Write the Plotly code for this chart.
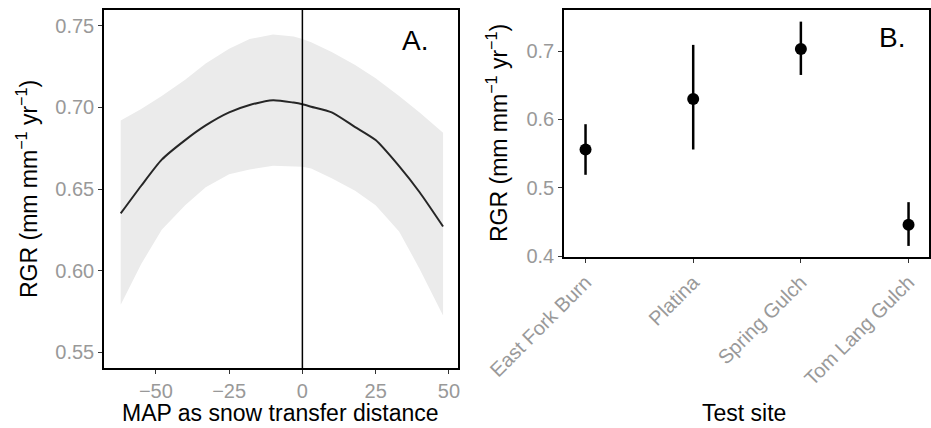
import plotly.graph_objects as go

# Panel A: fitted curve with confidence band
map_x = [-62, -55, -48, -40, -33, -25, -18, -10, -3, 0, 3, 10, 18, 25, 33, 40, 48]
rgr_fit = [0.635, 0.652, 0.668, 0.680, 0.689, 0.697, 0.7015, 0.7045, 0.703, 0.702, 0.7005, 0.697, 0.688, 0.680, 0.664, 0.648, 0.627]
rgr_upper = [0.692, 0.699, 0.707, 0.717, 0.727, 0.736, 0.742, 0.7448, 0.7435, 0.742, 0.740, 0.734, 0.726, 0.718, 0.707, 0.697, 0.6845]
rgr_lower = [0.579, 0.604, 0.625, 0.640, 0.651, 0.659, 0.662, 0.6643, 0.664, 0.6637, 0.6625, 0.6566, 0.649, 0.640, 0.624, 0.601, 0.5724]

# Panel B: site means with intervals
sites = ["East Fork Burn", "Platina", "Spring Gulch", "Tom Lang Gulch"]
site_mean = [0.556, 0.630, 0.703, 0.446]
site_low = [0.519, 0.556, 0.665, 0.415]
site_high = [0.593, 0.709, 0.743, 0.479]

a_yticks = [0.55, 0.60, 0.65, 0.70, 0.75]
a_xticks = [-50, -25, 0, 25, 50]
b_yticks = [0.4, 0.5, 0.6, 0.7]

W, H = 931, 428
FONT = "Liberation Sans, Arial, sans-serif"
TICKC = "#999999"

fig = go.Figure()

# ribbon
fig.add_trace(go.Scatter(x=map_x + map_x[::-1], y=rgr_upper + rgr_lower[::-1],
                         fill="toself", fillcolor="#ebebeb", line=dict(width=0),
                         mode="lines", hoverinfo="skip", showlegend=False,
                         xaxis="x", yaxis="y"))
fig.add_trace(go.Scatter(x=map_x, y=rgr_fit, mode="lines",
                         line=dict(color="#262626", width=2, shape="spline", smoothing=0.6),
                         showlegend=False, xaxis="x", yaxis="y"))

sx = list(range(len(sites)))
fig.add_trace(go.Scatter(x=sx, y=site_mean, mode="markers",
                         marker=dict(color="black", size=12),
                         error_y=dict(type="data", symmetric=False,
                                      array=[h - m for h, m in zip(site_high, site_mean)],
                                      arrayminus=[m - l for m, l in zip(site_mean, site_low)],
                                      color="black", thickness=2.5, width=0),
                         showlegend=False, xaxis="x2", yaxis="y2"))

def px_x(p):
    return p / W

def px_y(p):
    return 1 - p / H

axis_common = dict(showgrid=False, zeroline=False, showline=True, linecolor="black",
                   linewidth=1.5, mirror=True, ticks="outside", ticklen=4, tickwidth=1,
                   tickcolor="#333333", automargin=False,
                   tickfont=dict(family=FONT, size=20, color=TICKC))

fig.update_layout(
    template="none",
    width=W, height=H, margin=dict(l=0, r=0, t=0, b=0, pad=0, autoexpand=False),
    paper_bgcolor="white", plot_bgcolor="white", showlegend=False,
    xaxis=dict(domain=[px_x(104), px_x(458)], range=[-67.7, 53.1], tickvals=a_xticks,
               anchor="y", **axis_common),
    yaxis=dict(domain=[px_y(368), px_y(10)], range=[0.5402, 0.7598], tickvals=a_yticks,
               tickformat=".2f", anchor="x", **axis_common),
    xaxis2=dict(domain=[px_x(564), px_x(929)], range=[-0.2, 3.19], tickvals=sx,
                ticktext=sites, tickangle=-45, anchor="y2", **axis_common),
    yaxis2=dict(domain=[px_y(257), px_y(10)], range=[0.3988, 0.760], tickvals=b_yticks,
                tickformat=".1f", anchor="x2", **axis_common),
)

fig.add_shape(type="line", xref="x", yref="paper", x0=0, x1=0, y0=px_y(368), y1=px_y(10),
              line=dict(color="black", width=1.5))

ytitle = "RGR (mm mm<sup>−1</sup> yr<sup>−1</sup>)"
annots = [
    dict(text=ytitle, x=px_x(27), y=px_y(189), textangle=-90),
    dict(text=ytitle, x=px_x(497), y=px_y(133), textangle=-90),
    dict(text="MAP as snow transfer distance", x=px_x(280), y=px_y(413)),
    dict(text="Test site", x=px_x(744), y=px_y(413)),
    dict(text="A.", x=px_x(415), y=px_y(40), size=28),
    dict(text="B.", x=px_x(892), y=px_y(37), size=28),
]
for a in annots:
    fig.add_annotation(text=a["text"], x=a["x"], y=a["y"], xref="paper", yref="paper",
                       showarrow=False, textangle=a.get("textangle", 0),
                       xanchor="center", yanchor="middle",
                       font=dict(family=FONT, size=a.get("size", 23), color="black"))

fig.write_html("out.html", config={"displayModeBar": False},
               post_script="document.body.style.margin='0';document.body.style.overflow='hidden';")
